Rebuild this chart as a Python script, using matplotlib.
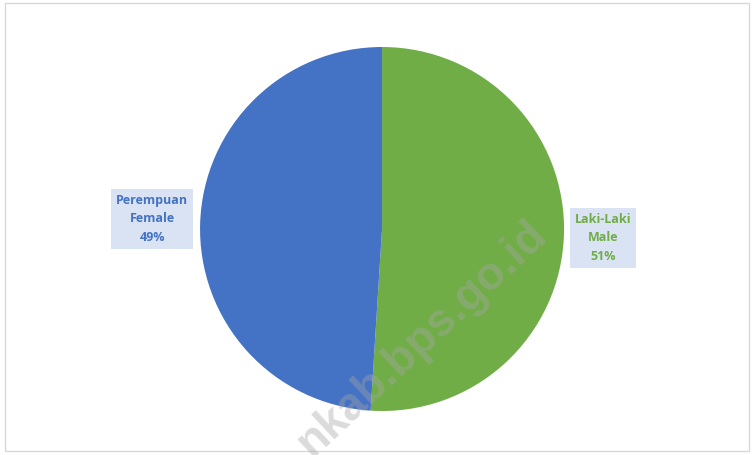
import matplotlib.pyplot as plt
from matplotlib.patches import Rectangle

# data
labels = ['Laki-Laki\nMale', 'Perempuan\nFemale']
values = [51, 49]
colors = ['#70AD47', '#4472C4']

fig = plt.figure(figsize=(7.54, 4.55), dpi=100)
fig.patches.append(Rectangle((0.006, 0.008), 0.988, 0.985, transform=fig.transFigure,
                             fill=False, edgecolor='#d9d9d9', lw=1))

ax = fig.add_axes([0.2653, 0.0967, 0.4828, 0.8])
wedges, _ = ax.pie(values, colors=colors, startangle=90, counterclock=False, radius=1)
ax.set_xlim(-1, 1)
ax.set_ylim(-1, 1)
ax.set_aspect('equal')
ax.axis('off')

# label positions (data units relative to the pie)
label_pos = [(1.214, -0.049), (-1.264, 0.055)]
for lab, v, c, (x, y) in zip(labels, values, colors, label_pos):
    ax.text(x, y, f'{lab}\n{v}%', color=c, ha='center', va='center',
            fontsize=9, fontweight='bold', family='Open Sans', linespacing=1.55,
            bbox=dict(boxstyle='square,pad=0.4', facecolor='#DAE3F3', edgecolor='none'),
            clip_on=False)

# watermark
fig.text(0.5597, 0.256, 'nkab.bps.go.id', rotation=43, ha='center', va='center',
         fontsize=33, fontweight='bold', color='#a6a6a6', alpha=0.4,
         family='Liberation Sans', rotation_mode='anchor')

fig.savefig('out.png', dpi=100)
